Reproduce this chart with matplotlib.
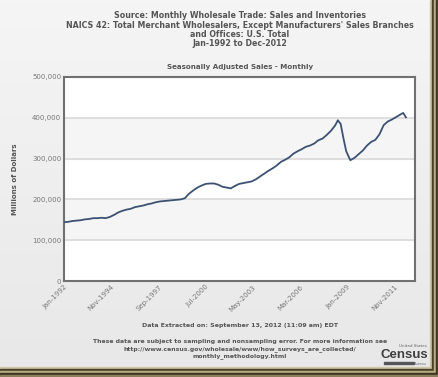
import numpy as np
import pandas as pd
import matplotlib
matplotlib.use("Agg")
import matplotlib.pyplot as plt
from matplotlib.patches import Rectangle

# monthly wholesale sales, millions of dollars
dates = ["1992-01", "1992-04", "1992-07", "1992-10", "1993-01", "1993-04", "1993-07", "1993-10",
         "1994-01", "1994-04", "1994-07", "1994-10", "1995-01", "1995-04", "1995-07", "1995-10",
         "1996-01", "1996-04", "1996-07", "1996-10", "1997-01", "1997-04", "1997-07", "1997-10",
         "1998-01", "1998-04", "1998-07", "1998-10", "1999-01", "1999-04", "1999-07", "1999-10",
         "2000-01", "2000-04", "2000-07", "2000-10", "2001-01", "2001-04", "2001-07", "2001-10",
         "2002-01", "2002-04", "2002-07", "2002-10", "2003-01", "2003-04", "2003-07", "2003-10",
         "2004-01", "2004-04", "2004-07", "2004-10", "2005-01", "2005-04", "2005-07", "2005-10",
         "2006-01", "2006-04", "2006-07", "2006-10", "2007-01", "2007-04", "2007-07", "2007-10",
         "2008-01", "2008-04", "2008-06", "2008-08", "2008-10", "2008-12", "2009-03", "2009-06",
         "2009-09", "2009-12", "2010-03", "2010-06", "2010-09", "2010-12", "2011-03", "2011-06",
         "2011-09", "2011-12", "2012-03", "2012-05", "2012-07"]
sales_k = [144, 145, 147, 148, 149, 151, 152, 154,
           154, 155, 154, 157, 162, 168, 172, 175,
           177, 181, 183, 185, 188, 190, 193, 195,
           196, 197, 198, 199, 200, 203, 214, 222,
           229, 234, 238, 239, 239, 236, 231, 229,
           227, 233, 238, 240, 242, 244, 249, 256,
           263, 270, 276, 283, 292, 297, 303, 312,
           318, 323, 329, 332, 337, 345, 349, 358,
           368, 381, 394, 385, 350, 318, 296, 302,
           311, 320, 332, 341, 346, 360, 382, 391,
           396, 402, 408, 412, 401]

tick_dates = ["1992-01", "1994-11", "1997-09", "2000-07", "2003-05", "2006-03", "2009-01", "2011-11"]
tick_labels = ["Jan-1992", "Nov-1994", "Sep-1997", "Jul-2000", "May-2003", "Mar-2006", "Jan-2009", "Nov-2011"]
y_ticks = [0, 100000, 200000, 300000, 400000, 500000]

x = pd.to_datetime(dates)
y = np.array(sales_k) * 1000

fig = plt.figure(figsize=(4.39, 3.77), dpi=100)
fig.patch.set_facecolor("white")

# panel background with gradient and the photo-frame shadow
bg = fig.add_axes([0, 0, 1, 1], zorder=-10)
bg.axis("off")
grad = np.linspace(0, 1, 100).reshape(-1, 1)
bg.imshow(grad, extent=[0, 430, 367, 0], cmap=matplotlib.colors.LinearSegmentedColormap.from_list(
    "p", ["#f5f5f5", "#e8e8e8"]), aspect="auto")
for off, col in [(0, "#cfc6a8"), (2, "#4a4228"), (4, "#b9ad85"), (6, "#3c3520"), (8, "#8a7f5a")]:
    bg.add_patch(Rectangle((430 + off, 0), 2, 367 + off + 2, color=col))
    bg.add_patch(Rectangle((0, 367 + off), 430 + off + 2, 2, color=col))
bg.set_xlim(0, 439)
bg.set_ylim(377, 0)

ax = fig.add_axes([64 / 439, 1 - 281 / 377, (415 - 64) / 439, (281 - 77) / 377])
ax.set_facecolor("white")
ax.axhspan(100000, 200000, color="#f5f5f5", zorder=0)
ax.axhspan(300000, 400000, color="#f5f5f5", zorder=0)
for v in y_ticks[1:-1]:
    ax.axhline(v, color="#dcdcdc", lw=1.3, zorder=1)
ax.plot(x, y, color="#3b5272", lw=1.3, zorder=3)

ax.set_ylim(0, 500000)
ax.set_xlim(pd.Timestamp("1992-01-01"), pd.Timestamp("2013-01-15"))
ax.set_yticks(y_ticks)
ax.set_yticklabels([f"{v:,}" for v in y_ticks], fontsize=5, color="#777777")
ax.set_xticks(pd.to_datetime(tick_dates))
ax.set_xticklabels(tick_labels, fontsize=5, color="#777777", rotation=45,
                   ha="right", rotation_mode="anchor")
ax.tick_params(length=0, pad=2)
for s in ax.spines.values():
    s.set_color("#707070")
    s.set_linewidth(1.5)
ax.set_ylabel("Millions of Dollars", fontsize=5, color="#555555", fontweight="bold", labelpad=10)

tc = "#555555"
title_lines = ["Source: Monthly Wholesale Trade: Sales and Inventories",
               "NAICS 42: Total Merchant Wholesalers, Except Manufacturers' Sales Branches",
               "and Offices: U.S. Total",
               "Jan-1992 to Dec-2012"]
for i, t in enumerate(title_lines):
    fig.text(240 / 439, 1 - (15.5 + 9.5 * i) / 377, t, ha="center", va="center",
             fontsize=5.65, fontweight="bold", color=tc)
fig.text(240 / 439, 1 - 67 / 377, "Seasonally Adjusted Sales - Monthly", ha="center", va="center",
         fontsize=5.1, fontweight="bold", color=tc)
fig.text(240 / 439, 1 - 325 / 377, "Data Extracted on: September 13, 2012 (11:09 am) EDT",
         ha="center", va="center", fontsize=4.5, fontweight="bold", color=tc)
foot = ["These data are subject to sampling and nonsampling error. For more information see",
        "http://www.census.gov/wholesale/www/how_surveys_are_collected/",
        "monthly_methodology.html"]
for i, t in enumerate(foot):
    fig.text(240 / 439, 1 - (341 + 7.7 * i) / 377, t, ha="center", va="center",
             fontsize=4.45, fontweight="bold", color=tc)

# census logo
fig.text(427 / 439, 1 - 346 / 377, "United States", ha="right", va="center", fontsize=3, color="#666666")
fig.text(428 / 439, 1 - 355.5 / 377, "Census", ha="right", va="center", fontsize=9.5,
         fontweight="bold", color="#3f3f3f", family=["Liberation Sans", "DejaVu Sans"])
fig.text(427 / 439, 1 - 364 / 377, "Bureau", ha="right", va="center", fontsize=2.6, color="#666666")
bg.add_patch(Rectangle((384, 362), 30, 1.5, color="#555555"))

fig.savefig("out.png", dpi=100)
